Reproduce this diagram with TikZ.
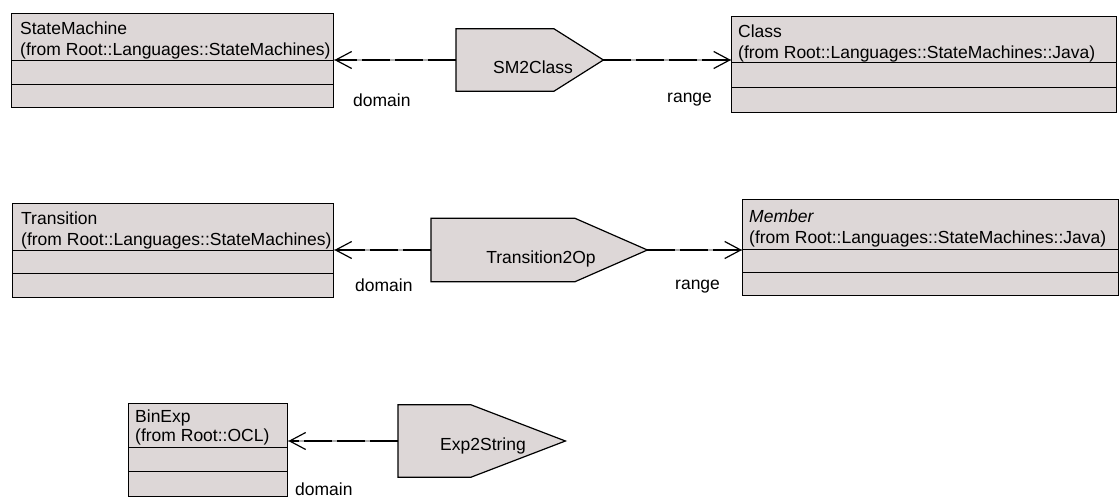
\documentclass[tikz,border=0pt]{standalone}
\usepackage{fontspec}
\setmainfont{Liberation Sans}
\usetikzlibrary{arrows.meta,calc}
\definecolor{boxfill}{RGB}{221,215,215}
\definecolor{gapgray}{RGB}{175,175,175}
\tikzset{
  every node/.style={font=\fontsize{17.5}{21}\selectfont},
  part/.style={draw=black, line width=1.4pt, fill=boxfill, inner sep=0pt, anchor=north west},
  lbl/.style={inner sep=0pt, anchor=base west},
  ptxt/.style={inner sep=0pt},
  pent/.style={draw=black, line width=1.2pt, fill=boxfill},
  gapline/.style={draw=gapgray, line width=1.2pt},
  conn/.style={draw=black, line width=1.2pt, dash pattern=on 28pt off 5pt, -{Straight Barb[length=16pt,width=17pt]}}
}
\begin{document}
\begin{tikzpicture}[x=1pt,y=-1pt]
\useasboundingbox (0,0) rectangle (1119,498);

% ---------- Row 1 ----------
\node[part, minimum width=322pt, minimum height=47pt] (smh) at (11,13) {};
\node[part, minimum width=322pt, minimum height=24pt] (smc1) at (11,60) {};
\node[part, minimum width=322pt, minimum height=23pt] (smc2) at (11,84) {};
\node[lbl] (smt1) at (20,34) {StateMachine};
\node[lbl] (smt2) at (20,55) {(from Root::Languages::StateMachines)};

\node[part, minimum width=385pt, minimum height=46pt] (clh) at (731,16) {};
\node[part, minimum width=385pt, minimum height=25pt] (clc1) at (731,62) {};
\node[part, minimum width=385pt, minimum height=25pt] (clc2) at (731,87) {};
\node[lbl] (clt1) at (738,37) {Class};
\node[lbl] (clt2) at (738,58) {(from Root::Languages::StateMachines::Java)};

\node[ptxt, minimum width=147pt, minimum height=62pt, anchor=west] (s2c) at (456,60) {};
\draw[pent] (s2c.north west) -- ($(s2c.north west)+(98,0)$) -- (s2c.east) -- ($(s2c.south west)+(98,0)$) -- (s2c.south west) -- cycle;
\node[inner sep=0pt, anchor=base] (s2ct) at (533,73) {SM2Class};

\draw[gapline] (s2c.west) -- (s2c.west -| smh.east);
\draw[conn] (s2c.west) -- (s2c.west -| smh.east);
\draw[gapline] (s2c.east) -- (s2c.east -| clh.west);
\draw[conn] (s2c.east) -- (s2c.east -| clh.west);
\node[lbl] (d1) at (353,106) {domain};
\node[lbl] (r1) at (667,102) {range};

% ---------- Row 2 ----------
\node[part, minimum width=321pt, minimum height=47pt] (trh) at (12,203) {};
\node[part, minimum width=321pt, minimum height=23pt] (trc1) at (12,250) {};
\node[part, minimum width=321pt, minimum height=24pt] (trc2) at (12,273) {};
\node[lbl] (trt1) at (21,224) {Transition};
\node[lbl] (trt2) at (21,245) {(from Root::Languages::StateMachines)};

\node[part, minimum width=376pt, minimum height=50pt] (meh) at (742,199) {};
\node[part, minimum width=376pt, minimum height=23pt] (mec1) at (742,249) {};
\node[part, minimum width=376pt, minimum height=23pt] (mec2) at (742,272) {};
\node[lbl] (met1) at (749,222) {\itshape Member};
\node[lbl] (met2) at (749,243) {(from Root::Languages::StateMachines::Java)};

\node[ptxt, minimum width=216pt, minimum height=63pt, anchor=west] (t2o) at (431,250) {};
\draw[pent] (t2o.north west) -- ($(t2o.north west)+(144,0)$) -- (t2o.east) -- ($(t2o.south west)+(144,0)$) -- (t2o.south west) -- cycle;
\node[inner sep=0pt, anchor=base] (t2ot) at (541,263) {Transition2Op};

\draw[gapline] (t2o.west) -- (t2o.west -| trh.east);
\draw[conn] (t2o.west) -- (t2o.west -| trh.east);
\draw[gapline] (t2o.east) -- (t2o.east -| meh.west);
\draw[conn] (t2o.east) -- (t2o.east -| meh.west);
\node[lbl] (d2) at (355,291) {domain};
\node[lbl] (r2) at (675,289) {range};

% ---------- Row 3 ----------
\node[part, minimum width=159pt, minimum height=44pt] (beh) at (128,403) {};
\node[part, minimum width=159pt, minimum height=24pt] (bec1) at (128,447) {};
\node[part, minimum width=159pt, minimum height=25pt] (bec2) at (128,471) {};
\node[lbl] (bet1) at (135,422) {BinExp};
\node[lbl] (bet2) at (135,441) {(from Root::OCL)};

\node[ptxt, minimum width=167pt, minimum height=72pt, anchor=west] (e2s) at (398,441) {};
\draw[pent] (e2s.north west) -- ($(e2s.north west)+(73,0)$) -- (e2s.east) -- ($(e2s.south west)+(73,0)$) -- (e2s.south west) -- cycle;
\node[inner sep=0pt, anchor=base] (e2st) at (483,450) {Exp2String};

\draw[gapline] (e2s.west) -- (e2s.west -| beh.east);
\draw[conn] (e2s.west) -- (e2s.west -| beh.east);
\node[lbl] (d3) at (295,495) {domain};
\end{tikzpicture}
\end{document}
